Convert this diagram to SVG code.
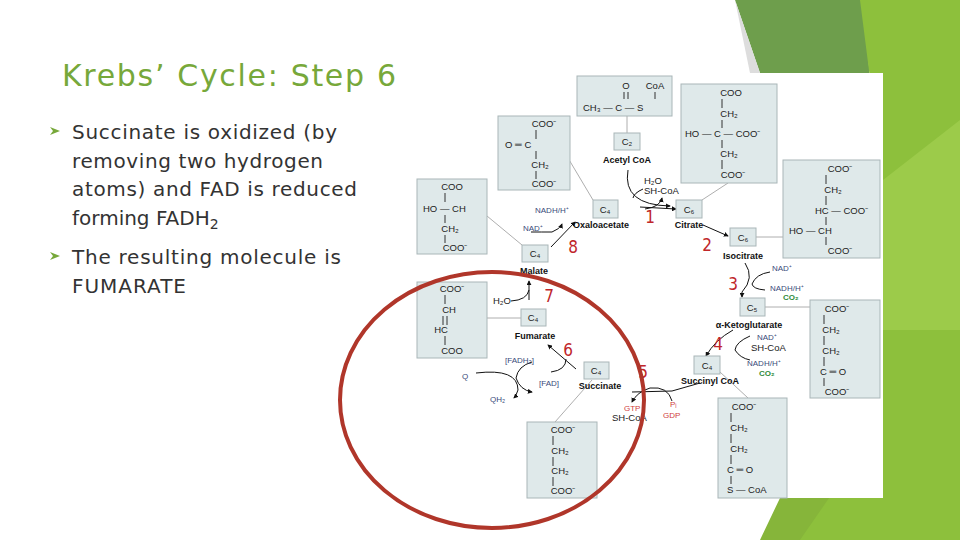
<svg xmlns="http://www.w3.org/2000/svg" width="960" height="540" viewBox="0 0 960 540">
<defs>
<style>
.bx{fill:#dfe9ea;stroke:#a9b6b8;stroke-width:1}
.s{font-family:"Liberation Sans",Arial,sans-serif;font-size:9.5px;fill:#222}
.c{font-family:"Liberation Sans",Arial,sans-serif;font-size:9.5px;fill:#222;text-anchor:middle}
.lb{font-family:"Liberation Sans",Arial,sans-serif;font-size:9px;font-weight:bold;fill:#111;text-anchor:middle}
.bl{font-family:"Liberation Sans",Arial,sans-serif;font-size:8px;fill:#3a4a7a}
.gr{font-family:"Liberation Sans",Arial,sans-serif;font-size:8px;font-weight:bold;fill:#2e8b3a}
.rd{font-family:"Liberation Sans",Arial,sans-serif;font-size:8px;fill:#d04040}
.n{font-family:"DejaVu Sans Condensed","DejaVu Sans",sans-serif;font-size:17px;fill:#c0262a;text-anchor:middle}
.ln{stroke:#999;stroke-width:0.8;fill:none}
.bd{stroke:#333;stroke-width:1;fill:none}
.ar{stroke:#111;stroke-width:1;fill:none;marker-end:url(#h)}
.body{font-family:"DejaVu Sans",sans-serif;font-size:20px;fill:#333}
</style>
<marker id="h" viewBox="0 0 6 6" refX="5" refY="3" markerWidth="5" markerHeight="5" orient="auto"><path d="M0,0L6,3L0,6z" fill="#111"/></marker>
</defs>
<rect width="960" height="540" fill="#fff"/>
<polygon points="735,0 865,0 883,300 883,73 760,73" fill="#6e9e4c"/>
<polygon points="860,0 960,0 960,540 790,540 883,400 883,180" fill="#8dc03c"/>
<polygon points="883,180 960,120 960,330 883,330" fill="#9ccb4a"/>
<polygon points="780,498 883,498 883,420 800,540 760,540" fill="#86b53a"/>
<rect x="417" y="73" width="466" height="425" fill="#fff"/>
<polygon points="735,0 760,73 750,73" fill="#ddd"/>

<text x="62" y="86" font-family="DejaVu Sans,sans-serif" font-size="30" fill="#77a83a" textLength="334" lengthAdjust="spacing">Krebs’ Cycle:  Step 6</text>
<g id="text">
<polygon points="50,127 60,131 50,135 53,131" fill="#77a83a"/>
<text class="body" x="72" y="139" textLength="265">Succinate is oxidized (by</text>
<text class="body" x="72" y="168" textLength="251">removing two hydrogen</text>
<text class="body" x="72" y="196" textLength="285">atoms) and FAD is reduced</text>
<text class="body" x="72" y="225">forming FADH<tspan font-size="14" dy="4">2</tspan></text>
<polygon points="50,252 60,256 50,260 53,256" fill="#77a83a"/>
<text class="body" x="72" y="264" textLength="269">The resulting molecule is</text>
<text class="body" x="72" y="293" textLength="114">FUMARATE</text>
</g>

<g id="connectors">
<line class="ln" x1="627" y1="116" x2="627" y2="133"/>
<line class="ln" x1="568" y1="158" x2="593" y2="200"/>
<line class="ln" x1="487" y1="216" x2="522" y2="245"/>
<line class="ln" x1="728" y1="183" x2="702" y2="200"/>
<line class="ln" x1="756" y1="237" x2="783" y2="237"/>
<line class="ln" x1="765" y1="307" x2="810" y2="307"/>
<line class="ln" x1="720" y1="372" x2="748" y2="398"/>
<line class="ln" x1="487" y1="318" x2="521" y2="318"/>
<line class="ln" x1="592" y1="380" x2="555" y2="422"/>
<path class="ar" d="M628,170 Q622,205 670,206"/>
<path class="ar" d="M640,207 L676,209"/>
<path d="M643,189 Q634,193 633,198" stroke="#111" fill="none"/>
<path class="ar" d="M645,209 Q660,207 662,198"/>
<path class="ar" d="M703,225 L728,236"/>
<path class="ar" d="M745,263 Q755,278 742,292 L742,297"/>
<path d="M770,272 Q756,274 752,284 Q753,289 765,290" stroke="#111" fill="none"/>
<path class="ar" d="M733,330 Q715,340 706,356"/>
<path d="M750,336 Q736,342 735,350 Q740,358 750,360" stroke="#111" fill="none"/>
<path d="M700,383 L672,391 L632,392" stroke="#111" fill="none"/>
<path class="ar" d="M672,401 Q668,386 650,388 Q637,392 632,402"/>
<path class="ar" d="M551,247 L575,222"/>
<path class="ar" d="M531,232 Q542,232 552,232 Q560,229 562,224"/>
<path class="ar" d="M529,300 L529,281"/>
<path d="M511,301 Q527,300 529,290" stroke="#111" fill="none"/>
<path class="ar" d="M576,369 L548,345"/>
<path d="M566,359 Q566,370 551,372" stroke="#111" fill="none"/>
<path d="M532,362 Q518,366 516,378 Q520,390 532,392" stroke="#111" fill="none" marker-end="url(#h)"/>
<path class="ar" d="M476,373 Q518,368 518,390 Q516,396 514,398"/>
</g>

<g id="acetylcoa">
<rect class="bx" x="577" y="76" width="95" height="40"/>
<text class="c" x="626" y="89">O</text><text class="c" x="655" y="89">CoA</text>
<path class="bd" d="M624,92v7M628,92v7M655,92v7"/>
<text class="s" x="583" y="111">CH₃ — C — S</text>
<rect class="bx" x="614" y="133" width="26" height="17"/><text class="c" x="627" y="145">C₂</text>
<text class="lb" x="627" y="163">Acetyl CoA</text>
<text class="s" x="644" y="184">H₂O</text><text class="s" x="644" y="194">SH-CoA</text>
</g>
<g id="oxaloacetate">
<rect class="bx" x="498" y="116" width="72" height="74"/>
<text class="c" x="544" y="127">COO⁻</text>
<text class="s" x="505" y="148">O ═ C</text>
<text class="c" x="540" y="168">CH₂</text>
<text class="c" x="544" y="187">COO⁻</text>
<path class="bd" d="M536,130v9M536,151v8M536,171v8"/>
<rect class="bx" x="593" y="200" width="25" height="18"/><text class="c" x="605" y="213">C₄</text>
<text class="lb" x="601" y="228">Oxaloacetate</text>
<text class="n" x="650" y="223">1</text>
</g>
<g id="citrate">
<rect class="bx" x="681" y="84" width="96" height="99"/>
<text class="c" x="731" y="96">COO</text>
<text class="c" x="729" y="117">CH₂</text>
<text class="s" x="685" y="137">HO — C — COO⁻</text>
<text class="c" x="729" y="157">CH₂</text>
<text class="c" x="733" y="178">COO⁻</text>
<path class="bd" d="M722,99v9M722,120v8M722,140v8M722,160v9"/>
<rect class="bx" x="676" y="200" width="26" height="18"/><text class="c" x="689" y="213">C₆</text>
<text class="lb" x="689" y="228">Citrate</text>
<text class="n" x="707" y="251">2</text>
</g>
<g id="isocitrate">
<rect class="bx" x="783" y="160" width="97" height="98"/>
<text class="c" x="840" y="172">COO⁻</text>
<text class="c" x="833" y="193">CH₂</text>
<text class="s" x="815" y="214">HC — COO⁻</text>
<text class="s" x="789" y="234">HO — CH</text>
<text class="c" x="840" y="254">COO⁻</text>
<path class="bd" d="M826,175v9M826,196v9M826,217v8M826,237v8"/>
<rect class="bx" x="730" y="228" width="26" height="18"/><text class="c" x="743" y="241">C₆</text>
<text class="lb" x="743" y="259">Isocitrate</text>
<text class="bl" x="772" y="271">NAD⁺</text>
<text class="n" x="733" y="290">3</text>
<text class="bl" x="770" y="291">NADH/H⁺</text>
<text class="gr" x="783" y="300">CO₂</text>
</g>
<g id="ketoglutarate">
<rect class="bx" x="810" y="300" width="70" height="98"/>
<text class="c" x="837" y="312">COO⁻</text>
<text class="c" x="831" y="333">CH₂</text>
<text class="c" x="831" y="354">CH₂</text>
<text class="s" x="820" y="375">C ═ O</text>
<text class="c" x="837" y="395">COO⁻</text>
<path class="bd" d="M824,315v9M824,336v9M824,357v9M824,378v8"/>
<rect class="bx" x="740" y="298" width="25" height="18"/><text class="c" x="752" y="311">C₅</text>
<text class="lb" x="749" y="328">α-Ketoglutarate</text>
<text class="n" x="718" y="350">4</text>
<text class="bl" x="757" y="340">NAD⁺</text>
<text class="s" x="751" y="351">SH-CoA</text>
<text class="bl" x="747" y="366">NADH/H⁺</text>
<text class="gr" x="759" y="376">CO₂</text>
</g>
<g id="succinylcoa">
<rect class="bx" x="694" y="356" width="26" height="18"/><text class="c" x="707" y="369">C₄</text>
<text class="lb" x="710" y="384">Succinyl CoA</text>
<rect class="bx" x="718" y="398" width="69" height="100"/>
<text class="c" x="744" y="410">COO⁻</text>
<text class="c" x="739" y="431">CH₂</text>
<text class="c" x="739" y="452">CH₂</text>
<text class="s" x="727" y="473">C ═ O</text>
<text class="s" x="727" y="493">S — CoA</text>
<path class="bd" d="M731,413v9M731,434v9M731,455v9M731,476v8"/>
<text class="n" x="643" y="378">5</text>
<text class="rd" x="670" y="407">Pᵢ</text><text class="rd" x="663" y="418">GDP</text>
<text class="rd" x="624" y="411">GTP</text><text class="s" x="612" y="421">SH-CoA</text>
</g>
<g id="succinate">
<rect class="bx" x="584" y="362" width="25" height="17"/><text class="c" x="596" y="374">C₄</text>
<text class="lb" x="600" y="389">Succinate</text>
<rect class="bx" x="527" y="422" width="70" height="76"/>
<text class="c" x="563" y="433">COO⁻</text>
<text class="c" x="560" y="454">CH₂</text>
<text class="c" x="560" y="474">CH₂</text>
<text class="c" x="563" y="494">COO⁻</text>
<path class="bd" d="M553,436v9M553,457v9M553,477v9" stroke-width="2"/>
</g>
<g id="fumarate">
<rect class="bx" x="417" y="282" width="70" height="76"/>
<text class="c" x="452" y="292">COO⁻</text>
<text class="c" x="449" y="313">CH</text>
<text class="c" x="441" y="333">HC</text>
<text class="c" x="452" y="354">COO</text>
<path class="bd" d="M445,295v9M443,316v9M447,316v9M445,336v9"/>
<rect class="bx" x="521" y="309" width="25" height="17"/><text class="c" x="533" y="321">C₄</text>
<text class="lb" x="535" y="339">Fumarate</text>
<text class="n" x="549" y="302">7</text>
<text class="s" x="493" y="304">H₂O</text>
<text class="n" x="568" y="356">6</text>
<text class="bl" x="505" y="363">[FADH₂]</text>
<text class="bl" x="462" y="379">Q</text>
<text class="bl" x="539" y="386">[FAD]</text>
<text class="bl" x="490" y="402">QH₂</text>
</g>
<g id="malate">
<rect class="bx" x="417" y="179" width="70" height="75"/>
<text class="c" x="452" y="190">COO</text>
<text class="s" x="423" y="212">HO — CH</text>
<text class="c" x="450" y="232">CH₂</text>
<text class="c" x="455" y="251">COO⁻</text>
<path class="bd" d="M445,193v9M445,215v8M445,235v8"/>
<rect class="bx" x="522" y="245" width="26" height="17"/><text class="c" x="535" y="257">C₄</text>
<text class="lb" x="534" y="274">Malate</text>
<text class="n" x="573" y="253">8</text>
<text class="bl" x="535" y="213">NADH/H⁺</text>
<text class="bl" x="523" y="231">NAD⁺</text>
</g>
<ellipse cx="492" cy="400" rx="152" ry="128" fill="none" stroke="#b0362a" stroke-width="4"/>
</svg>
